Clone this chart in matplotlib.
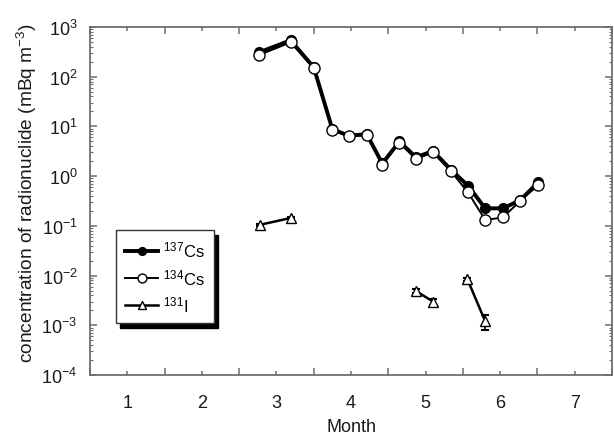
import numpy as np
import matplotlib
matplotlib.use("Agg")
import matplotlib.pyplot as plt
from matplotlib.ticker import FixedLocator, LogLocator, NullFormatter

plt.rcParams['font.family'] = ['Liberation Sans', 'DejaVu Sans']
plt.rcParams['mathtext.fontset'] = 'custom'
plt.rcParams['mathtext.rm'] = 'Liberation Sans'
plt.rcParams['mathtext.it'] = 'Liberation Sans:italic'

# Sampling times (month) shared by the caesium series
cs_month = [2.77, 3.19, 3.50, 3.75, 3.97, 4.21, 4.42, 4.65,
            4.87, 5.10, 5.34, 5.57, 5.80, 6.04, 6.27, 6.51]
cs137 = [310, 540, 155, 8.8, 6.5, 7.0, 1.8, 5.0,
         2.4, 3.2, 1.35, 0.64, 0.225, 0.225, 0.33, 0.75]
cs134 = [275, 490, 148, 8.5, 6.3, 6.7, 1.7, 4.7,
         2.2, 3.0, 1.25, 0.47, 0.131, 0.148, 0.32, 0.66]

# Iodine-131, measured in three separate periods
i131_month = [2.78, 3.19, 4.87, 5.10, 5.56, 5.80]
i131 = [0.105, 0.144, 0.0049, 0.0030, 0.0085, 0.0012]
i131_err = [0.006, 0.008, 0.0005, 0.0004, 0.0006, 0.0004]
i131_group = [0, 0, 1, 1, 2, 2]

month_ticks = [1, 2, 3, 4, 5, 6, 7]

fig = plt.figure(figsize=(6.14, 4.35), dpi=100)
ax = fig.add_axes([90 / 614, 59 / 435, 522 / 614, 348 / 435])

l137, = ax.plot(cs_month, cs137, '-o', color='black', lw=2.8,
                ms=7, mfc='black', mec='black', zorder=3)
l134, = ax.plot(cs_month, cs134, '-o', color='black', lw=1.4,
                ms=8, mfc='white', mec='black', mew=1.0, zorder=4)

im = np.array(i131_month)
iv = np.array(i131)
ie = np.array(i131_err)
ig = np.array(i131_group)
li = None
for g in np.unique(ig):
    sel = ig == g
    ax.errorbar(im[sel], iv[sel], yerr=ie[sel], fmt='none', ecolor='black',
                elinewidth=1.2, capsize=3, capthick=1.5, zorder=2)
    line, = ax.plot(im[sel], iv[sel], '-^', color='black', lw=1.8,
                    ms=7, mfc='white', mec='black', mew=1.0, zorder=3)
    li = line

ax.set_yscale('log')
ax.set_ylim(1e-4, 1e3)
ax.set_xlim(0.5, 7.5)

ax.xaxis.set_major_locator(FixedLocator(month_ticks))
ax.xaxis.set_minor_locator(FixedLocator(np.arange(0.5, 8.0, 1.0)))
ax.yaxis.set_major_locator(LogLocator(base=10, numticks=20))
ax.yaxis.set_minor_locator(LogLocator(base=10, subs=np.arange(2, 10), numticks=20))
ax.yaxis.set_minor_formatter(NullFormatter())

spine_col = '#6e6e6e'
for s in ax.spines.values():
    s.set_color(spine_col)
    s.set_linewidth(1.3)

ax.tick_params(axis='both', which='both', direction='in', top=True, right=True,
               color=spine_col, labelsize=13, labelcolor='#1a1a1a')
ax.tick_params(axis='x', which='major', length=3, width=1.1, pad=14)
ax.tick_params(axis='x', which='minor', length=5, width=1.1)
ax.tick_params(axis='y', which='major', length=5, width=1.1, pad=9)
ax.tick_params(axis='y', which='minor', length=2.5, width=0.8)

ax.set_xlabel('Month', fontsize=13, color='#1a1a1a', labelpad=5)
ax.set_ylabel(r'concentration of radionuclide (mBq m$^{-3}$)', fontsize=13.8,
              color='#1a1a1a')
ax.yaxis.set_label_coords(-0.098, 0.525)

leg = ax.legend([l137, l134, li],
                [r'$^{137}$Cs', r'$^{134}$Cs', r'$^{131}$I'],
                loc='upper left', bbox_to_anchor=(0.043, 0.425),
                fontsize=12, frameon=True, fancybox=False, handlelength=2.0,
                handletextpad=0.3, borderpad=0.55, labelspacing=0.45,
                borderaxespad=0.2, markerscale=0.8,
                shadow={'ox': 3, 'oy': -3, 'color': 'black', 'alpha': 1})
leg.get_frame().set_edgecolor('#333333')
leg.get_frame().set_linewidth(1.0)

fig.savefig('out.png', dpi=100)
